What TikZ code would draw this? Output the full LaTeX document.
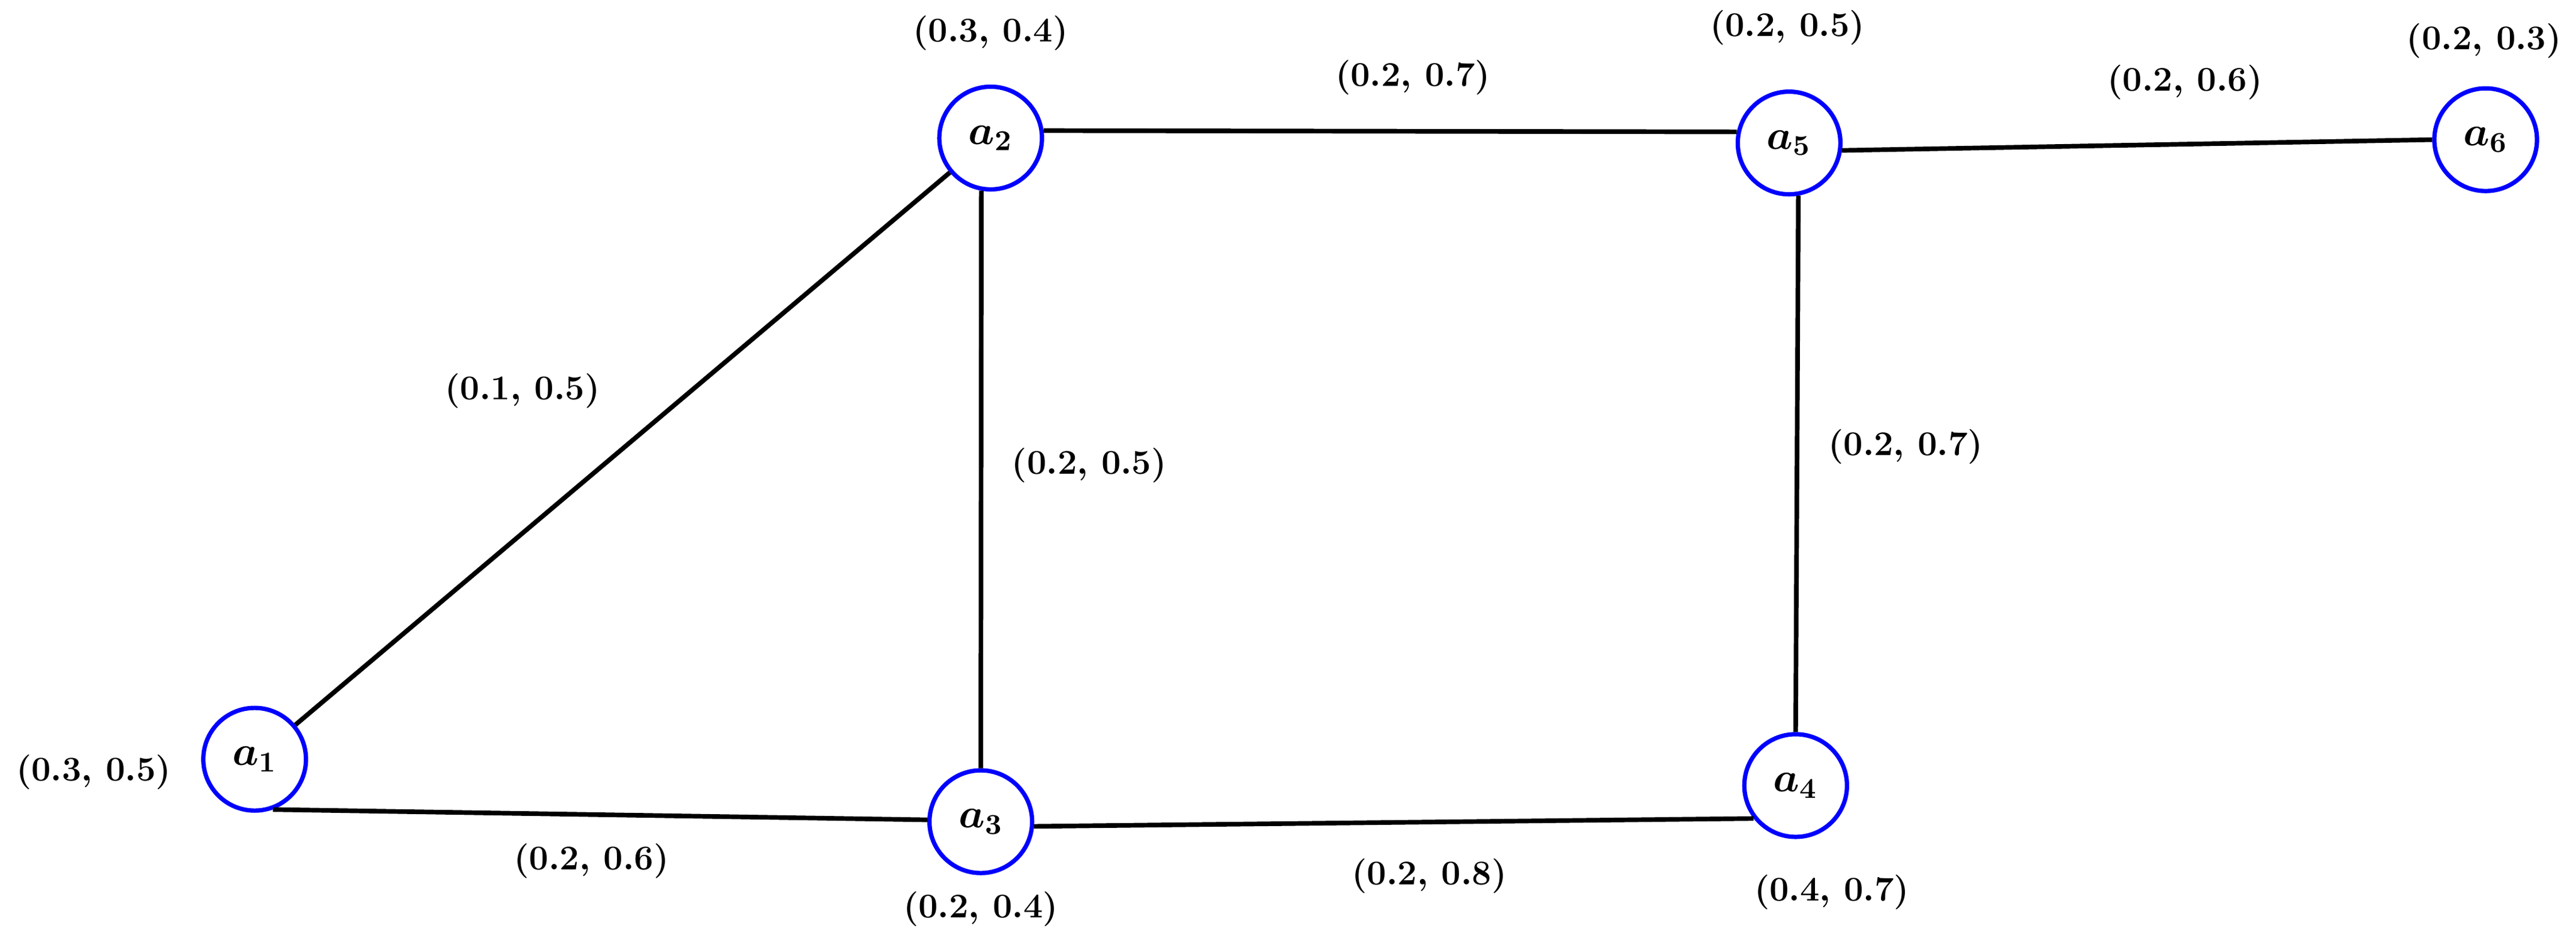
\documentclass[tikz,border=0pt]{standalone}
\usepackage{amsmath,bm}
\begin{document}
\begin{tikzpicture}[x=0.02cm,y=-0.02cm,
  vtx/.style={circle,draw=blue,line width=1.5pt,minimum size=1.25cm,inner sep=0pt,fill=white,font=\Large},
  edge/.style={line width=1.6pt,black},
  lab/.style={font=\large}]
\useasboundingbox (0,0) rectangle (1568,575);
\node[vtx] (a1) at (155,462) {$\bm{a_1}$};
\node[vtx] (a2) at (603,84) {$\bm{a_2}$};
\node[vtx] (a3) at (597,500) {$\bm{a_3}$};
\node[vtx] (a4) at (1093,478) {$\bm{a_4}$};
\node[vtx] (a5) at (1089,87) {$\bm{a_5}$};
\node[vtx] (a6) at (1513,85) {$\bm{a_6}$};
\draw[edge] (a1) -- (a2);
\draw[edge] (a1.-70) -- (a3.178);
\draw[edge] (a2.-100) -- (a3.north);
\draw[edge] (a2.8) -- (a5.168);
\draw[edge] (a3.-5) -- (a4.218);
\draw[edge] (a5.-80) -- (a4.north);
\draw[edge] (a5.-8) -- (a6.180);
\boldmath
\node[lab] (l1) at (603,20) {$(0.3,\,0.4)$};
\node[lab] (l2) at (860,47) {$(0.2,\,0.7)$};
\node[lab] (l3) at (1088,17) {$(0.2,\,0.5)$};
\node[lab] (l4) at (1330,50) {$(0.2,\,0.6)$};
\node[lab] (l5) at (1512,25) {$(0.2,\,0.3)$};
\node[lab] (l6) at (318,238) {$(0.1,\,0.5)$};
\node[lab] (l7) at (663,283) {$(0.2,\,0.5)$};
\node[lab] (l8) at (1160,272) {$(0.2,\,0.7)$};
\node[lab] (l9) at (57,470) {$(0.3,\,0.5)$};
\node[lab] (l10) at (360,524) {$(0.2,\,0.6)$};
\node[lab] (l11) at (870,533) {$(0.2,\,0.8)$};
\node[lab] (l12) at (597,553) {$(0.2,\,0.4)$};
\node[lab] (l13) at (1115,543) {$(0.4,\,0.7)$};
\end{tikzpicture}
\end{document}
